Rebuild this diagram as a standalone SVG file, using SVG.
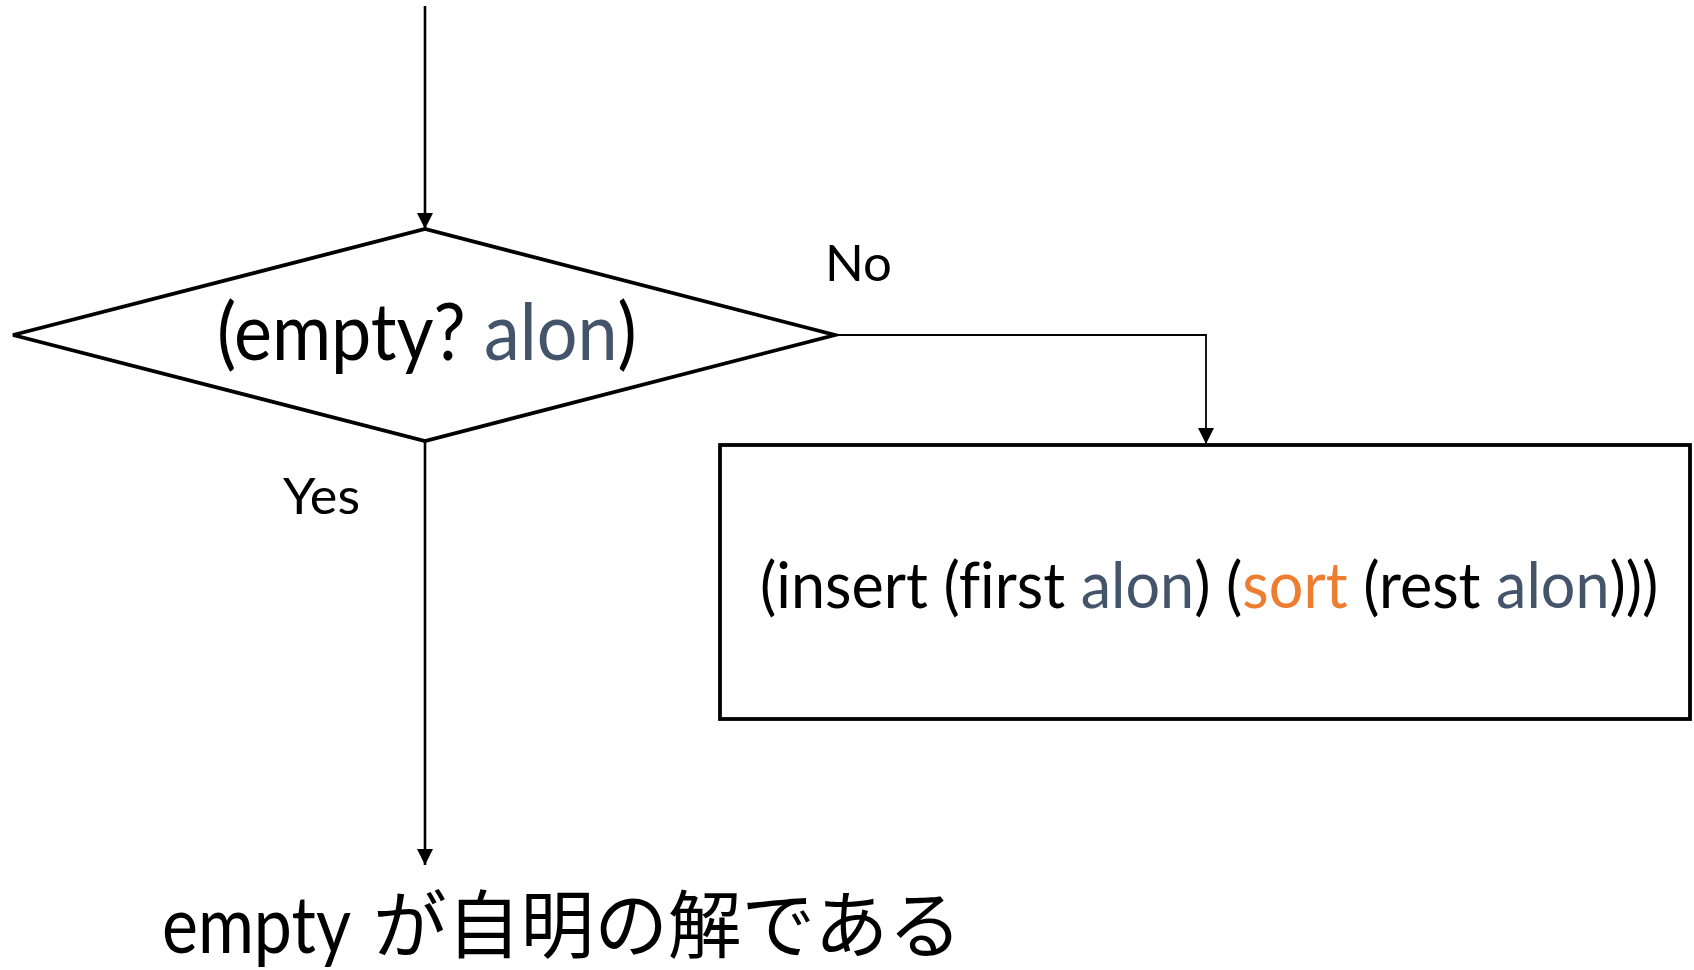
<svg xmlns="http://www.w3.org/2000/svg" width="1694" height="970" viewBox="0 0 1694 970">
<style>
.shape{fill:#ffffff;stroke:#000000;stroke-width:3.8}
.conn{fill:none;stroke:#000000;stroke-width:2.6}
.thin{fill:none;stroke:#000000;stroke-width:1.8}
.lat{font-family:Lato,"Noto Sans",sans-serif;fill:#000000;font-variant-ligatures:none}
.jp{font-family:"Noto Sans CJK JP","Noto Sans",sans-serif;fill:#000000}
.var{fill:#44546A}
.fn{fill:#ED7D31}
</style>
<defs>
<marker id="arr" markerUnits="userSpaceOnUse" markerWidth="16" markerHeight="16" viewBox="0 0 16 16" refX="16" refY="8" orient="auto">
<path d="M0,0 L16,8 L0,16 Z" fill="#000000"/>
</marker>
</defs>
<rect width="1694" height="970" fill="#ffffff"/>
<g id="connectors">
<line class="conn" x1="425" y1="6" x2="425" y2="229" marker-end="url(#arr)"/>
<polyline class="thin" points="835,335 1206,335 1206,444" marker-end="url(#arr)"/>
<line class="conn" x1="425" y1="441" x2="425" y2="865" marker-end="url(#arr)"/>
</g>
<g id="decision">
<polygon class="shape" points="13,335 425,229 835,335 425,441"/>
<text class="lat" transform="translate(217,360) scale(0.898,1)" x="0" y="0" font-size="80">(empty? <tspan class="var">alon</tspan>)</text>
</g>
<g id="label-no">
<text class="lat" x="825" y="281" font-size="50" textLength="67" lengthAdjust="spacingAndGlyphs">No</text>
</g>
<g id="label-yes">
<text class="lat" x="283" y="514" font-size="50" textLength="77" lengthAdjust="spacingAndGlyphs">Yes</text>
</g>
<g id="process">
<rect class="shape" x="720" y="445" width="970" height="274"/>
<text class="lat" transform="translate(760,608) scale(0.954,1)" x="0" y="0" font-size="64">(insert (first <tspan class="var">alon</tspan>) (<tspan class="fn">sort</tspan> (rest <tspan class="var">alon</tspan>)))</text>
</g>
<g id="result">
<text class="lat" x="162" y="953" font-size="80" textLength="189" lengthAdjust="spacingAndGlyphs">empty</text>
<text class="jp" x="373" y="952" font-size="74" textLength="589" lengthAdjust="spacingAndGlyphs">が自明の解である</text>
</g>
</svg>
